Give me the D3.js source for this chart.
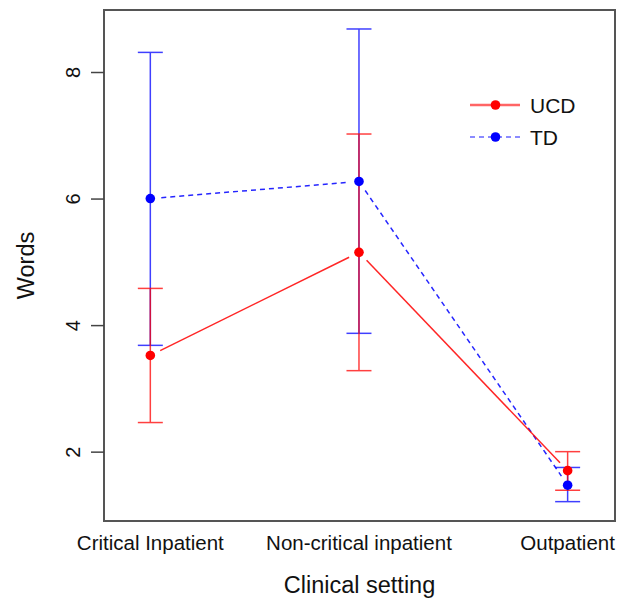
<!DOCTYPE html>
<meta charset="utf-8">
<style>
body { margin: 0; background: #fff; }
text { font-family: "Liberation Sans", Arial, sans-serif; fill: #111; }
</style>
<body>
<script src="https://d3js.org/d3.v7.min.js"></script>
<script>

// data
var settings = ["Critical Inpatient", "Non-critical inpatient", "Outpatient"];
var ucdMean  = [3.52, 5.15, 1.70];
var ucdLow   = [2.46, 3.28, 1.39];
var ucdHigh  = [4.58, 7.02, 2.00];
var tdMean   = [6.00, 6.27, 1.47];
var tdLow    = [3.68, 3.87, 1.21];
var tdHigh   = [8.31, 8.68, 1.75];
var yTicks   = [2, 4, 6, 8];

var width = 627, height = 600;
var margin = {top: 10, right: 12, bottom: 79, left: 104};

var svg = d3.select("body").append("svg")
    .attr("width", width)
    .attr("height", height);

var x = d3.scaleLinear()
    .domain([0.778, 3.227])
    .range([margin.left, width - margin.right]);
var y = d3.scaleLinear()
    .domain([0.904, 8.98])
    .range([height - margin.bottom, margin.top]);

var series = [
  {name: "TD", color: "blue", dash: "5,4", mean: tdMean, low: tdLow, high: tdHigh},
  {name: "UCD", color: "red", dash: null, mean: ucdMean, low: ucdLow, high: ucdHigh}
];

// error bars
series.forEach(function(s) {
  var g = svg.append("g").attr("stroke", s.color).attr("stroke-width", 1.5).attr("opacity", 0.75);
  settings.forEach(function(c, i) {
    var cx = x(i + 1);
    g.append("line").attr("x1", cx).attr("x2", cx).attr("y1", y(s.low[i])).attr("y2", y(s.high[i]));
    g.append("line").attr("x1", cx - 12.5).attr("x2", cx + 12.5).attr("y1", y(s.low[i])).attr("y2", y(s.low[i]));
    g.append("line").attr("x1", cx - 12.5).attr("x2", cx + 12.5).attr("y1", y(s.high[i])).attr("y2", y(s.high[i]));
  });
});

// connecting lines, with a gap around each point (R type="b")
var gap = 11;
series.forEach(function(s) {
  for (var i = 0; i < s.mean.length - 1; i++) {
    var x1 = x(i + 1), y1 = y(s.mean[i]), x2 = x(i + 2), y2 = y(s.mean[i + 1]);
    var len = Math.hypot(x2 - x1, y2 - y1);
    var ux = (x2 - x1) / len, uy = (y2 - y1) / len;
    svg.append("line")
      .attr("x1", x1 + ux * gap).attr("y1", y1 + uy * gap)
      .attr("x2", x2 - ux * gap).attr("y2", y2 - uy * gap)
      .attr("stroke", s.color)
      .attr("stroke-width", 1.5)
      .attr("opacity", 0.85)
      .attr("stroke-dasharray", s.dash);
  }
  svg.selectAll(null)
    .data(s.mean)
    .enter().append("circle")
      .attr("cx", function(d, i) { return x(i + 1); })
      .attr("cy", function(d) { return y(d); })
      .attr("r", 4.8)
      .attr("fill", s.color);
});

// box
svg.append("rect")
  .attr("x", margin.left).attr("y", margin.top)
  .attr("width", width - margin.left - margin.right)
  .attr("height", height - margin.top - margin.bottom)
  .attr("fill", "none").attr("stroke", "#555").attr("stroke-width", 2);

// y axis
var yAxis = svg.append("g")
  .attr("transform", "translate(" + margin.left + ",0)")
  .call(d3.axisLeft(y).tickValues(yTicks).tickSize(13).tickPadding(0).tickFormat(d3.format("d")));
yAxis.select(".domain").remove();
yAxis.selectAll(".tick line").attr("stroke", "#444").attr("stroke-width", 1.5);
yAxis.selectAll(".tick text")
  .attr("x", null).attr("dy", null)
  .attr("transform", "translate(-24,0) rotate(-90)")
  .attr("text-anchor", "middle")
  .style("font-size", "20px");

// x labels
svg.selectAll(".xlab")
  .data(settings)
  .enter().append("text")
    .attr("x", function(d, i) { return x(i + 1); })
    .attr("y", 550)
    .attr("text-anchor", "middle")
    .style("font-size", "20.5px")
    .text(function(d) { return d; });

svg.append("text")
  .attr("x", (margin.left + width - margin.right) / 2)
  .attr("y", 593)
  .attr("text-anchor", "middle")
  .style("font-size", "23.5px")
  .text("Clinical setting");

svg.append("text")
  .attr("transform", "translate(34," + (margin.top + height - margin.bottom) / 2 + ") rotate(-90)")
  .attr("text-anchor", "middle")
  .style("font-size", "23.5px")
  .text("Words");

// legend
var legend = [series[1], series[0]];
legend.forEach(function(s, i) {
  var ly = 105 + i * 32;
  svg.append("line")
    .attr("x1", 470).attr("x2", 520).attr("y1", ly).attr("y2", ly)
    .attr("stroke", s.color).attr("stroke-width", s.dash ? 1.5 : 2.5)
    .attr("stroke-dasharray", s.dash)
    .attr("opacity", 0.6);
  svg.append("circle").attr("cx", 495.5).attr("cy", ly).attr("r", 4.8).attr("fill", s.color);
  svg.append("text").attr("x", 530).attr("y", ly + 7.5)
    .style("font-size", "21px").text(s.name);
});

</script>
</body>
